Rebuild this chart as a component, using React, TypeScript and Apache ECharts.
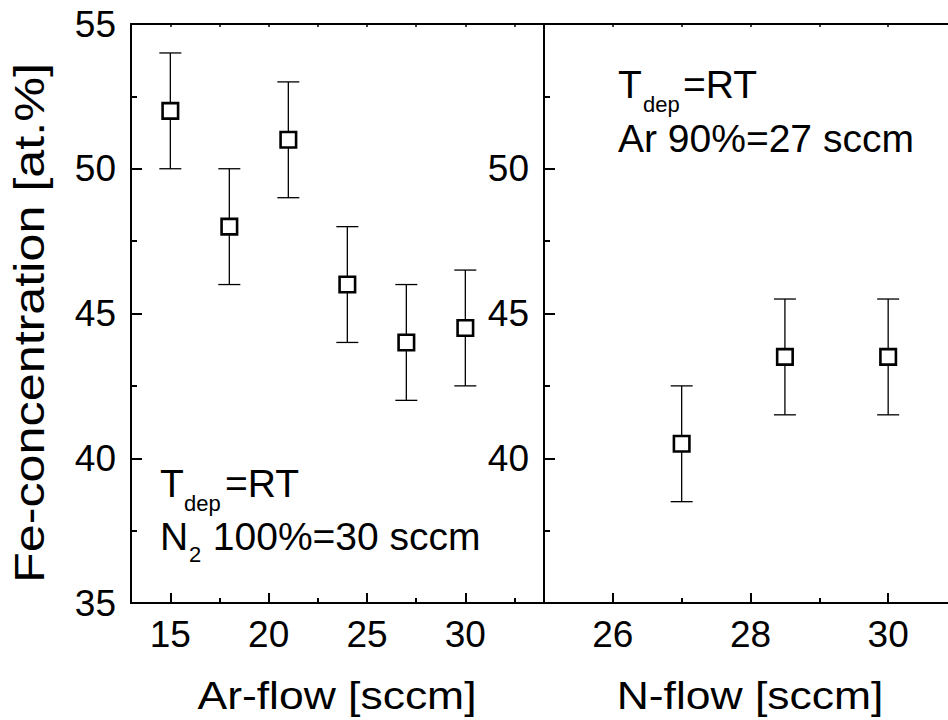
import React, { useEffect, useRef } from "react";
import * as echarts from "echarts";

// ---- data ----
const arFlow = [15, 18, 21, 24, 27, 30];
const feAr = [52, 48, 51, 46, 44, 44.5];
const errAr = [2, 2, 2, 2, 2, 2];

const nFlow = [27, 28.5, 30];
const feN = [40.5, 43.5, 43.5];
const errN = [2, 2, 2];

const arMajor = [15, 20, 25, 30];
const arMinor = [17.5, 22.5, 27.5, 32.5];
const nMajor = [26, 28, 30];
const nMinor = [27, 29];
const rightYLabels = [40, 45, 50];

const FONT = "Liberation Sans, Arial, Helvetica, sans-serif";

export default function App() {
  const ref = useRef<HTMLDivElement>(null);
  useEffect(() => {
    if (!ref.current) return;
    document.body.style.margin = "0";
    document.body.style.overflow = "hidden";
    const chart = echarts.init(ref.current, null, { renderer: "svg" });

    const axisLine = { show: true, onZero: false, lineStyle: { color: "#000", width: 2 } };
    const labelStyle = { color: "#000", fontSize: 37, fontFamily: FONT };

    const errRender = (params: any, api: any) => {
      const x = api.value(0);
      const lo = api.value(1);
      const hi = api.value(2);
      const t = api.coord([x, hi]);
      const b = api.coord([x, lo]);
      const hw = 11;
      const style = { stroke: "#000", lineWidth: 1.3, fill: "none" };
      return {
        type: "group",
        children: [
          { type: "line", shape: { x1: t[0], y1: t[1], x2: b[0], y2: b[1] }, style },
          { type: "line", shape: { x1: t[0] - hw, y1: t[1], x2: t[0] + hw, y2: t[1] }, style },
          { type: "line", shape: { x1: b[0] - hw, y1: b[1], x2: b[0] + hw, y2: b[1] }, style },
        ],
      };
    };

    const gridTop = 24;
    const gridH = 579;
    const gridW = 413;

    const makeX = (grid: number, min: number, max: number, major: number[], minor: number[]) => [
      {
        type: "value",
        gridIndex: grid,
        position: "bottom",
        min,
        max,
        axisLine,
        splitLine: { show: false },
        axisTick: { show: true, inside: true, length: 10, customValues: major, lineStyle: { color: "#000", width: 2 } },
        axisLabel: { show: true, margin: 13, customValues: major, ...labelStyle },
      },
      {
        type: "value",
        gridIndex: grid,
        position: "bottom",
        min,
        max,
        axisLine: { show: false },
        splitLine: { show: false },
        axisTick: { show: true, inside: true, length: 5, customValues: minor, lineStyle: { color: "#000", width: 2 } },
        axisLabel: { show: false },
      },
      {
        type: "value",
        gridIndex: grid,
        position: "top",
        min,
        max,
        axisLine,
        splitLine: { show: false },
        axisTick: {
          show: true,
          inside: true,
          length: 3,
          customValues: [...major, ...minor],
          lineStyle: { color: "#000", width: 1.5 },
        },
        axisLabel: { show: false },
      },
    ];

    const makeY = (grid: number, labels: number[] | null) => ({
      type: "value",
      gridIndex: grid,
      position: "left",
      min: 35,
      max: 55,
      interval: 5,
      axisLine,
      splitLine: { show: false },
      axisTick: { show: true, inside: true, length: 11, lineStyle: { color: "#000", width: 2 } },
      minorTick: { show: true, splitNumber: 2, length: 6, lineStyle: { color: "#000", width: 2 } },
      minorSplitLine: { show: false },
      axisLabel: labels
        ? { show: true, margin: 15, customValues: labels, ...labelStyle }
        : { show: true, margin: 15, ...labelStyle },
    });

    const txt = (x: number, y: number, text: string, size: number, extra: any = {}) => ({
      type: "text",
      x,
      y,
      ...extra,
      style: {
        text,
        fontSize: size,
        fontFamily: FONT,
        fill: "#000",
        align: extra.align || "left",
        textAlign: extra.align || "left",
        verticalAlign: "middle",
        textVerticalAlign: "middle",
      },
    });

    const markerStyle = { color: "#fff", borderColor: "#000", borderWidth: 2.6, opacity: 1 };

    const option: any = {
      animation: false,
      backgroundColor: "#fff",
      grid: [
        { left: 131, top: gridTop, width: gridW, height: gridH, outerBoundsMode: "none", containLabel: false },
        { left: 544, top: gridTop, width: gridW, height: gridH, outerBoundsMode: "none", containLabel: false },
      ],
      xAxis: [...makeX(0, 13, 34, arMajor, arMinor), ...makeX(1, 25, 31, nMajor, nMinor)],
      yAxis: [makeY(0, null), makeY(1, rightYLabels)],
      series: [
        {
          type: "custom",
          xAxisIndex: 0,
          yAxisIndex: 0,
          renderItem: errRender,
          encode: { x: 0, y: [1, 2] },
          data: arFlow.map((x, i) => [x, feAr[i] - errAr[i], feAr[i] + errAr[i]]),
          z: 2,
        },
        {
          type: "scatter",
          xAxisIndex: 0,
          yAxisIndex: 0,
          symbol: "rect",
          symbolSize: 15.5,
          itemStyle: markerStyle,
          data: arFlow.map((x, i) => [x, feAr[i]]),
          z: 3,
        },
        {
          type: "custom",
          xAxisIndex: 3,
          yAxisIndex: 1,
          renderItem: errRender,
          encode: { x: 0, y: [1, 2] },
          data: nFlow.map((x, i) => [x, feN[i] - errN[i], feN[i] + errN[i]]),
          z: 2,
        },
        {
          type: "scatter",
          xAxisIndex: 3,
          yAxisIndex: 1,
          symbol: "rect",
          symbolSize: 15.5,
          itemStyle: markerStyle,
          data: nFlow.map((x, i) => [x, feN[i]]),
          z: 3,
        },
      ],
      graphic: [
        // axis titles
        txt(29, 323, "Fe-concentration [at.%]", 43, { rotation: Math.PI / 2, scaleX: 1.17, align: "center" }),
        txt(337, 695, "Ar-flow [sccm]", 39, { scaleX: 1.14, align: "center" }),
        txt(750, 695, "N-flow [sccm]", 39, { scaleX: 1.14, align: "center" }),
        // left annotation
        txt(160, 483.5, "T", 39),
        txt(184, 503.5, "dep", 22),
        txt(225, 483.5, "=RT", 39),
        txt(160, 536, "N", 39),
        txt(189, 554, "2", 22),
        txt(202, 536, " 100%=30 sccm", 39),
        // right annotation
        txt(618, 84, "T", 39),
        txt(643, 104, "dep", 22),
        txt(683, 84, "=RT", 39),
        txt(618, 138.5, "Ar 90%=27 sccm", 39),
      ],
    };

    chart.setOption(option);
    return () => chart.dispose();
  }, []);

  return (
    <div
      ref={ref}
      style={{ position: "fixed", left: 0, top: 0, width: 948, height: 720, background: "#fff" }}
    />
  );
}
